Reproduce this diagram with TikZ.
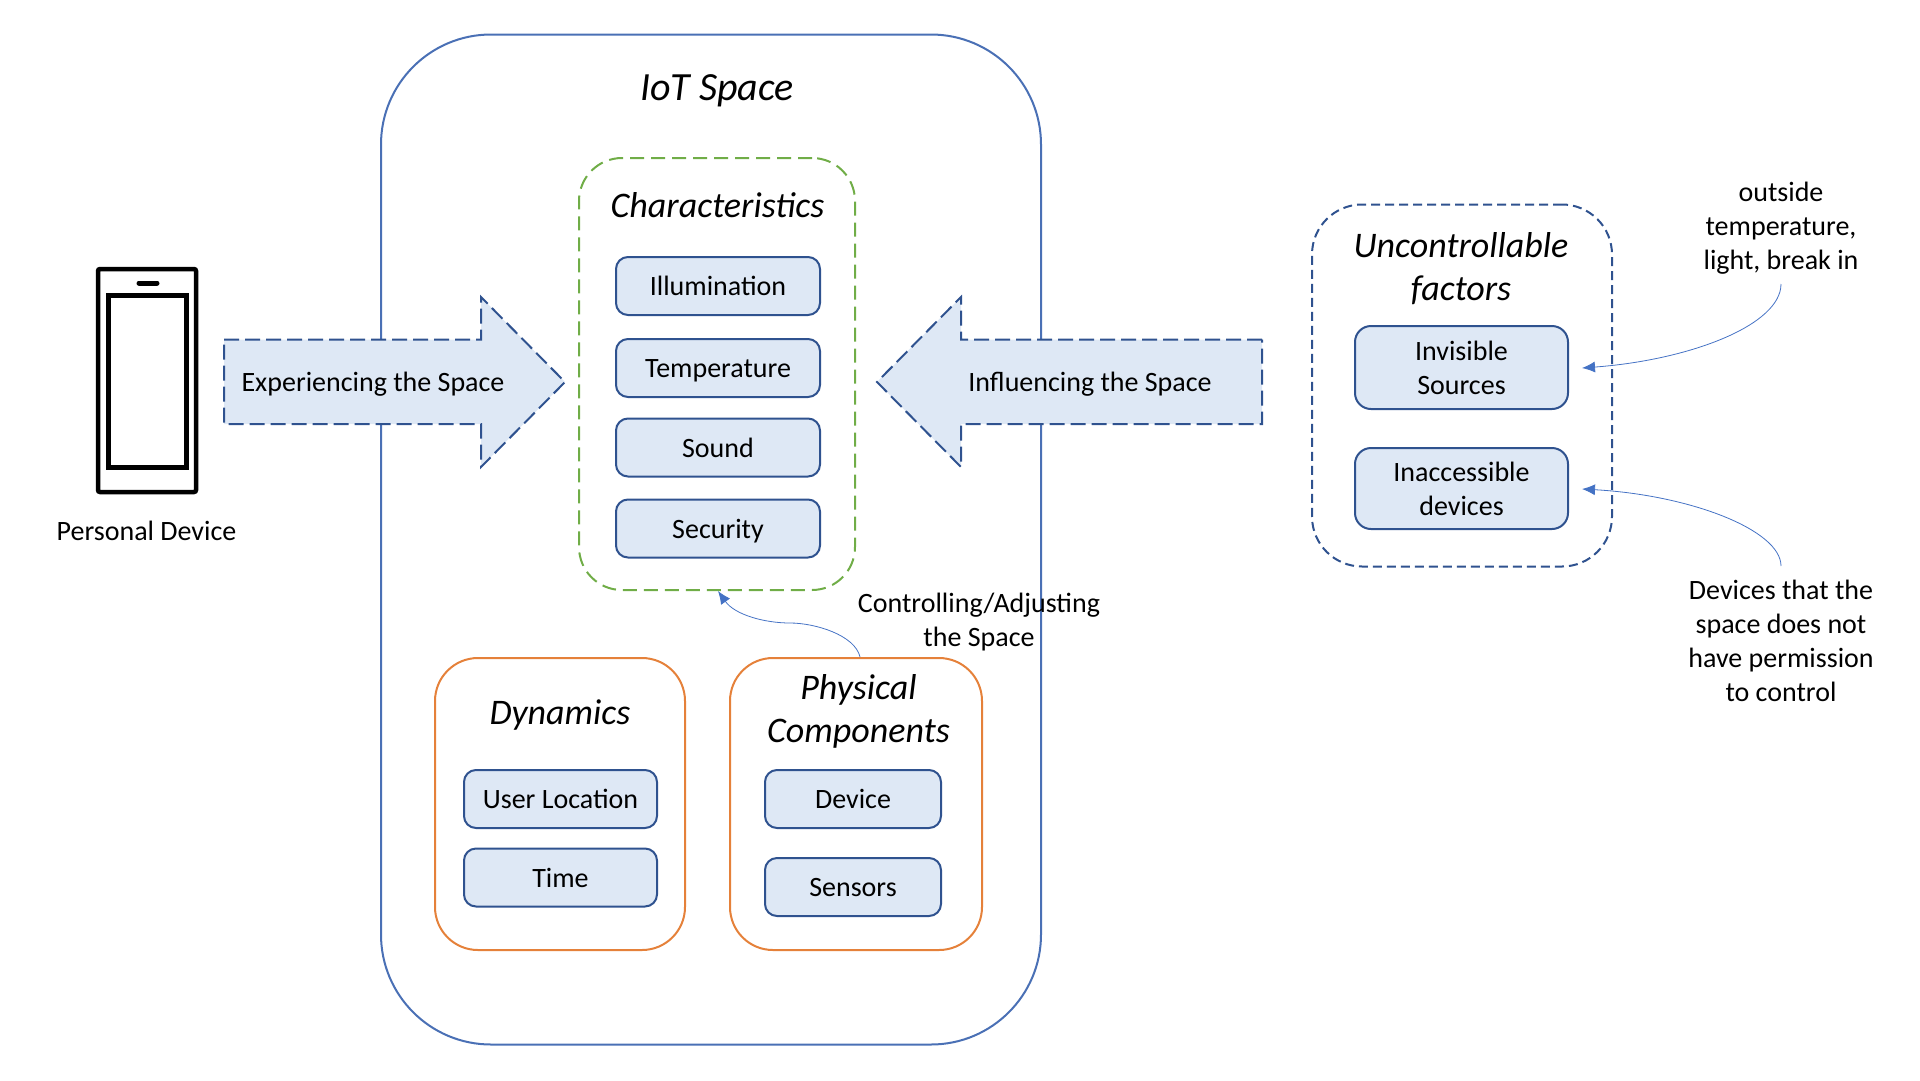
\documentclass[tikz,border=0pt]{standalone}
\usepackage{fontspec}
\setmainfont{Carlito}
\usetikzlibrary{arrows.meta}
\definecolor{spaceblue}{HTML}{4A70B5}
\definecolor{boxline}{HTML}{2F528F}
\definecolor{boxfill}{HTML}{DEE8F5}
\definecolor{greenline}{HTML}{70AD47}
\definecolor{orangeline}{HTML}{E5813A}
\definecolor{arrowblue}{HTML}{4472C4}
\tikzset{
  x=1pt,y=-1pt,
  base/.style={inner sep=0pt,outer sep=0pt,align=center,font=\fontsize{28}{34}\selectfont},
  item/.style={base,draw=boxline,fill=boxfill,line width=2pt,rounded corners=12pt},
  oneline/.style={text height=20pt,text depth=1pt},
  title/.style={base,font=\fontsize{36}{43}\selectfont\itshape},
  txt/.style={base},
  group/.style={base,line width=2pt,rounded corners=43pt},
  bigarrow/.style={draw=boxline,fill=boxfill,line width=2pt,dash pattern=on 15pt off 6pt},
  link/.style={draw=arrowblue,line width=0.8pt,-{Latex[length=13pt,width=11pt]}},
}
\begin{document}
\begin{tikzpicture}
\useasboundingbox (0,0) rectangle (1920,1080);
% containers
\node[base,draw=spaceblue,line width=2pt,rounded corners=110pt,minimum width=660pt,minimum height=1010pt] (space) at (711,539.5) {};
\node[group,draw=greenline,dash pattern=on 14pt off 7pt,minimum width=276pt,minimum height=432pt] (char) at (717,374) {};
\node[group,draw=orangeline,minimum width=250pt,minimum height=292pt] (dyn) at (560,804) {};
\node[group,draw=orangeline,minimum width=252pt,minimum height=292pt] (phys) at (856,804) {};
\node[group,draw=boxline,dash pattern=on 9pt off 5pt,rounded corners=50pt,minimum width=300pt,minimum height=362pt] (unc) at (1462,385.5) {};
% titles
\node[title,font=\fontsize{40}{43}\selectfont\itshape] (iot) at (717,91) {IoT Space};
\node[title] (chart) at (717.5,205) {Characteristics};
\node[title] (dynt) at (560,715) {Dynamics};
\node[title] (physt) at (858.5,711) {Physical\\Components};
\node[title] (unct) at (1461,268.5) {Uncontrollable\\factors};
% items
\node[item,oneline,minimum width=204pt,minimum height=58pt] (ill) at (718,286) {Illumination};
\node[item,oneline,minimum width=204pt,minimum height=58pt] (tem) at (718,368) {Temperature};
\node[item,oneline,minimum width=204pt,minimum height=58pt] (sou) at (718,447.5) {Sound};
\node[item,oneline,minimum width=204pt,minimum height=58pt] (sec) at (718,528.5) {Security};
\node[item,oneline,minimum width=193pt,minimum height=58pt] (loc) at (560.5,799) {User Location};
\node[item,oneline,minimum width=193pt,minimum height=58pt] (tim) at (560.5,877.5) {Time};
\node[item,oneline,minimum width=176pt,minimum height=58pt] (dev) at (853,799) {Device};
\node[item,oneline,minimum width=176pt,minimum height=58pt] (sen) at (853,887) {Sensors};
\node[item,rounded corners=16pt,minimum width=213pt,minimum height=83pt] (inv) at (1461.5,367.5) {Invisible\\Sources};
\node[item,rounded corners=16pt,minimum width=213pt,minimum height=81pt] (ina) at (1461.5,488.5) {Inaccessible\\devices};
% block arrows
\draw[bigarrow] (224,339.5) -- (481,339.5) -- (481,297) -- (565,382) -- (481,467) -- (481,424) -- (224,424) -- cycle;
\node[txt,oneline] (exp) at (373,382) {Experiencing the Space};
\draw[bigarrow] (1262,339.5) -- (961,339.5) -- (961,297) -- (877,382) -- (961,467) -- (961,424) -- (1262,424) -- cycle;
\node[txt,oneline] (inf) at (1090,382) {Influencing the Space};
% phone
\draw[line width=4.5pt,rounded corners=2pt] (98,269) rectangle (196,492);
\draw[line width=5pt] (108,295) rectangle (186,467);
\draw[line width=5pt,line cap=round] (139,283) -- (157,283);
\node[txt] (pd) at (146.5,531) {Personal Device};
% labels
\node[txt] (ctl) at (979,622.5) {Controlling/Adjusting\\the Space};
\node[txt] (out) at (1781,228) {outside\\temperature,\\light, break in};
\node[txt] (dvs) at (1781,640.5) {Devices that the\\space does not\\have permission\\to control};
% connectors
\coordinate (invp) at (1582,368);
\coordinate (inap) at (1582,489);
\coordinate (charp) at (718,591);
\coordinate (physp) at (860,657);
\coordinate (outp) at (1781,284);
\coordinate (dvsp) at (1781,566);
\draw[link] (outp) .. controls (1781,325) and (1690,360) .. (invp);
\draw[link] (dvsp) .. controls (1781,530) and (1690,495) .. (inap);
\draw[link] (physp) .. controls (855,635) and (815,623) .. (790,623) .. controls (765,623) and (735,615) .. (charp);
\end{tikzpicture}
\end{document}
